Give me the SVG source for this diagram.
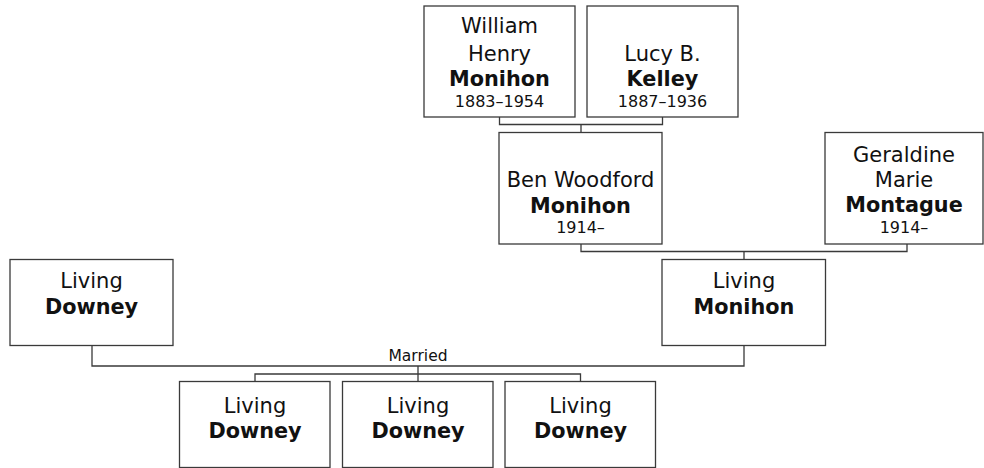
<svg xmlns="http://www.w3.org/2000/svg" width="984" height="468" viewBox="0 0 984 468">
<style>
.box{fill:#fff;stroke:#3a3a3a;stroke-width:1.3}
.ln{fill:none;stroke:#3a3a3a;stroke-width:1.3}
text{font-family:"DejaVu Sans","Verdana",sans-serif;text-anchor:middle;fill:#111}
.n{font-size:21px}
.b{font-size:20.8px;font-weight:bold}
.d{font-size:16px}
.m{font-size:15.5px}
</style>
<rect width="984" height="468" fill="#fff"/>
<g id="connectors">
<path class="ln" d="M499.5,117 V124.5 H662.5 V117 M581,124.5 V132.5"/>
<path class="ln" d="M581,244 V251.5 H907 V244 M744,251.5 V259.5"/>
<path class="ln" d="M92,345.5 V366 H744 V345.5"/>
<path class="ln" d="M418,366 V381.5 M255,381.5 V374 H580.5 V381.5"/>
<text class="m" x="418" y="361">Married</text>
</g>
<g id="william">
<rect class="box" x="424" y="6" width="151" height="111"/>
<text class="n" x="499.5" y="33">William</text>
<text class="n" x="499.5" y="61">Henry</text>
<text class="b" x="499.5" y="86">Monihon</text>
<text class="d" x="499.5" y="107">1883–1954</text>
</g>
<g id="lucy">
<rect class="box" x="587" y="6" width="151" height="111"/>
<text class="n" x="662.5" y="61">Lucy B.</text>
<text class="b" x="662.5" y="86">Kelley</text>
<text class="d" x="662.5" y="107">1887–1936</text>
</g>
<g id="ben">
<rect class="box" x="499" y="132.5" width="163" height="111.5"/>
<text class="n" x="580.5" y="187">Ben Woodford</text>
<text class="b" x="580.5" y="213">Monihon</text>
<text class="d" x="580.5" y="233">1914–</text>
</g>
<g id="geraldine">
<rect class="box" x="825" y="132.5" width="158" height="111.5"/>
<text class="n" x="904" y="162">Geraldine</text>
<text class="n" x="904" y="187">Marie</text>
<text class="b" x="904" y="212">Montague</text>
<text class="d" x="904" y="233">1914–</text>
</g>
<g id="living-monihon">
<rect class="box" x="662" y="259.5" width="163.5" height="86"/>
<text class="n" x="744" y="288">Living</text>
<text class="b" x="744" y="314">Monihon</text>
</g>
<g id="living-downey">
<rect class="box" x="10" y="259.5" width="163" height="86"/>
<text class="n" x="91.5" y="288">Living</text>
<text class="b" x="91.5" y="314">Downey</text>
</g>
<g id="child1">
<rect class="box" x="179.5" y="381.5" width="150.5" height="86"/>
<text class="n" x="255" y="412.5">Living</text>
<text class="b" x="255" y="438">Downey</text>
</g>
<g id="child2">
<rect class="box" x="342.5" y="381.5" width="150.5" height="86"/>
<text class="n" x="418" y="412.5">Living</text>
<text class="b" x="418" y="438">Downey</text>
</g>
<g id="child3">
<rect class="box" x="505" y="381.5" width="150.5" height="86"/>
<text class="n" x="580.5" y="412.5">Living</text>
<text class="b" x="580.5" y="438">Downey</text>
</g>
</svg>
